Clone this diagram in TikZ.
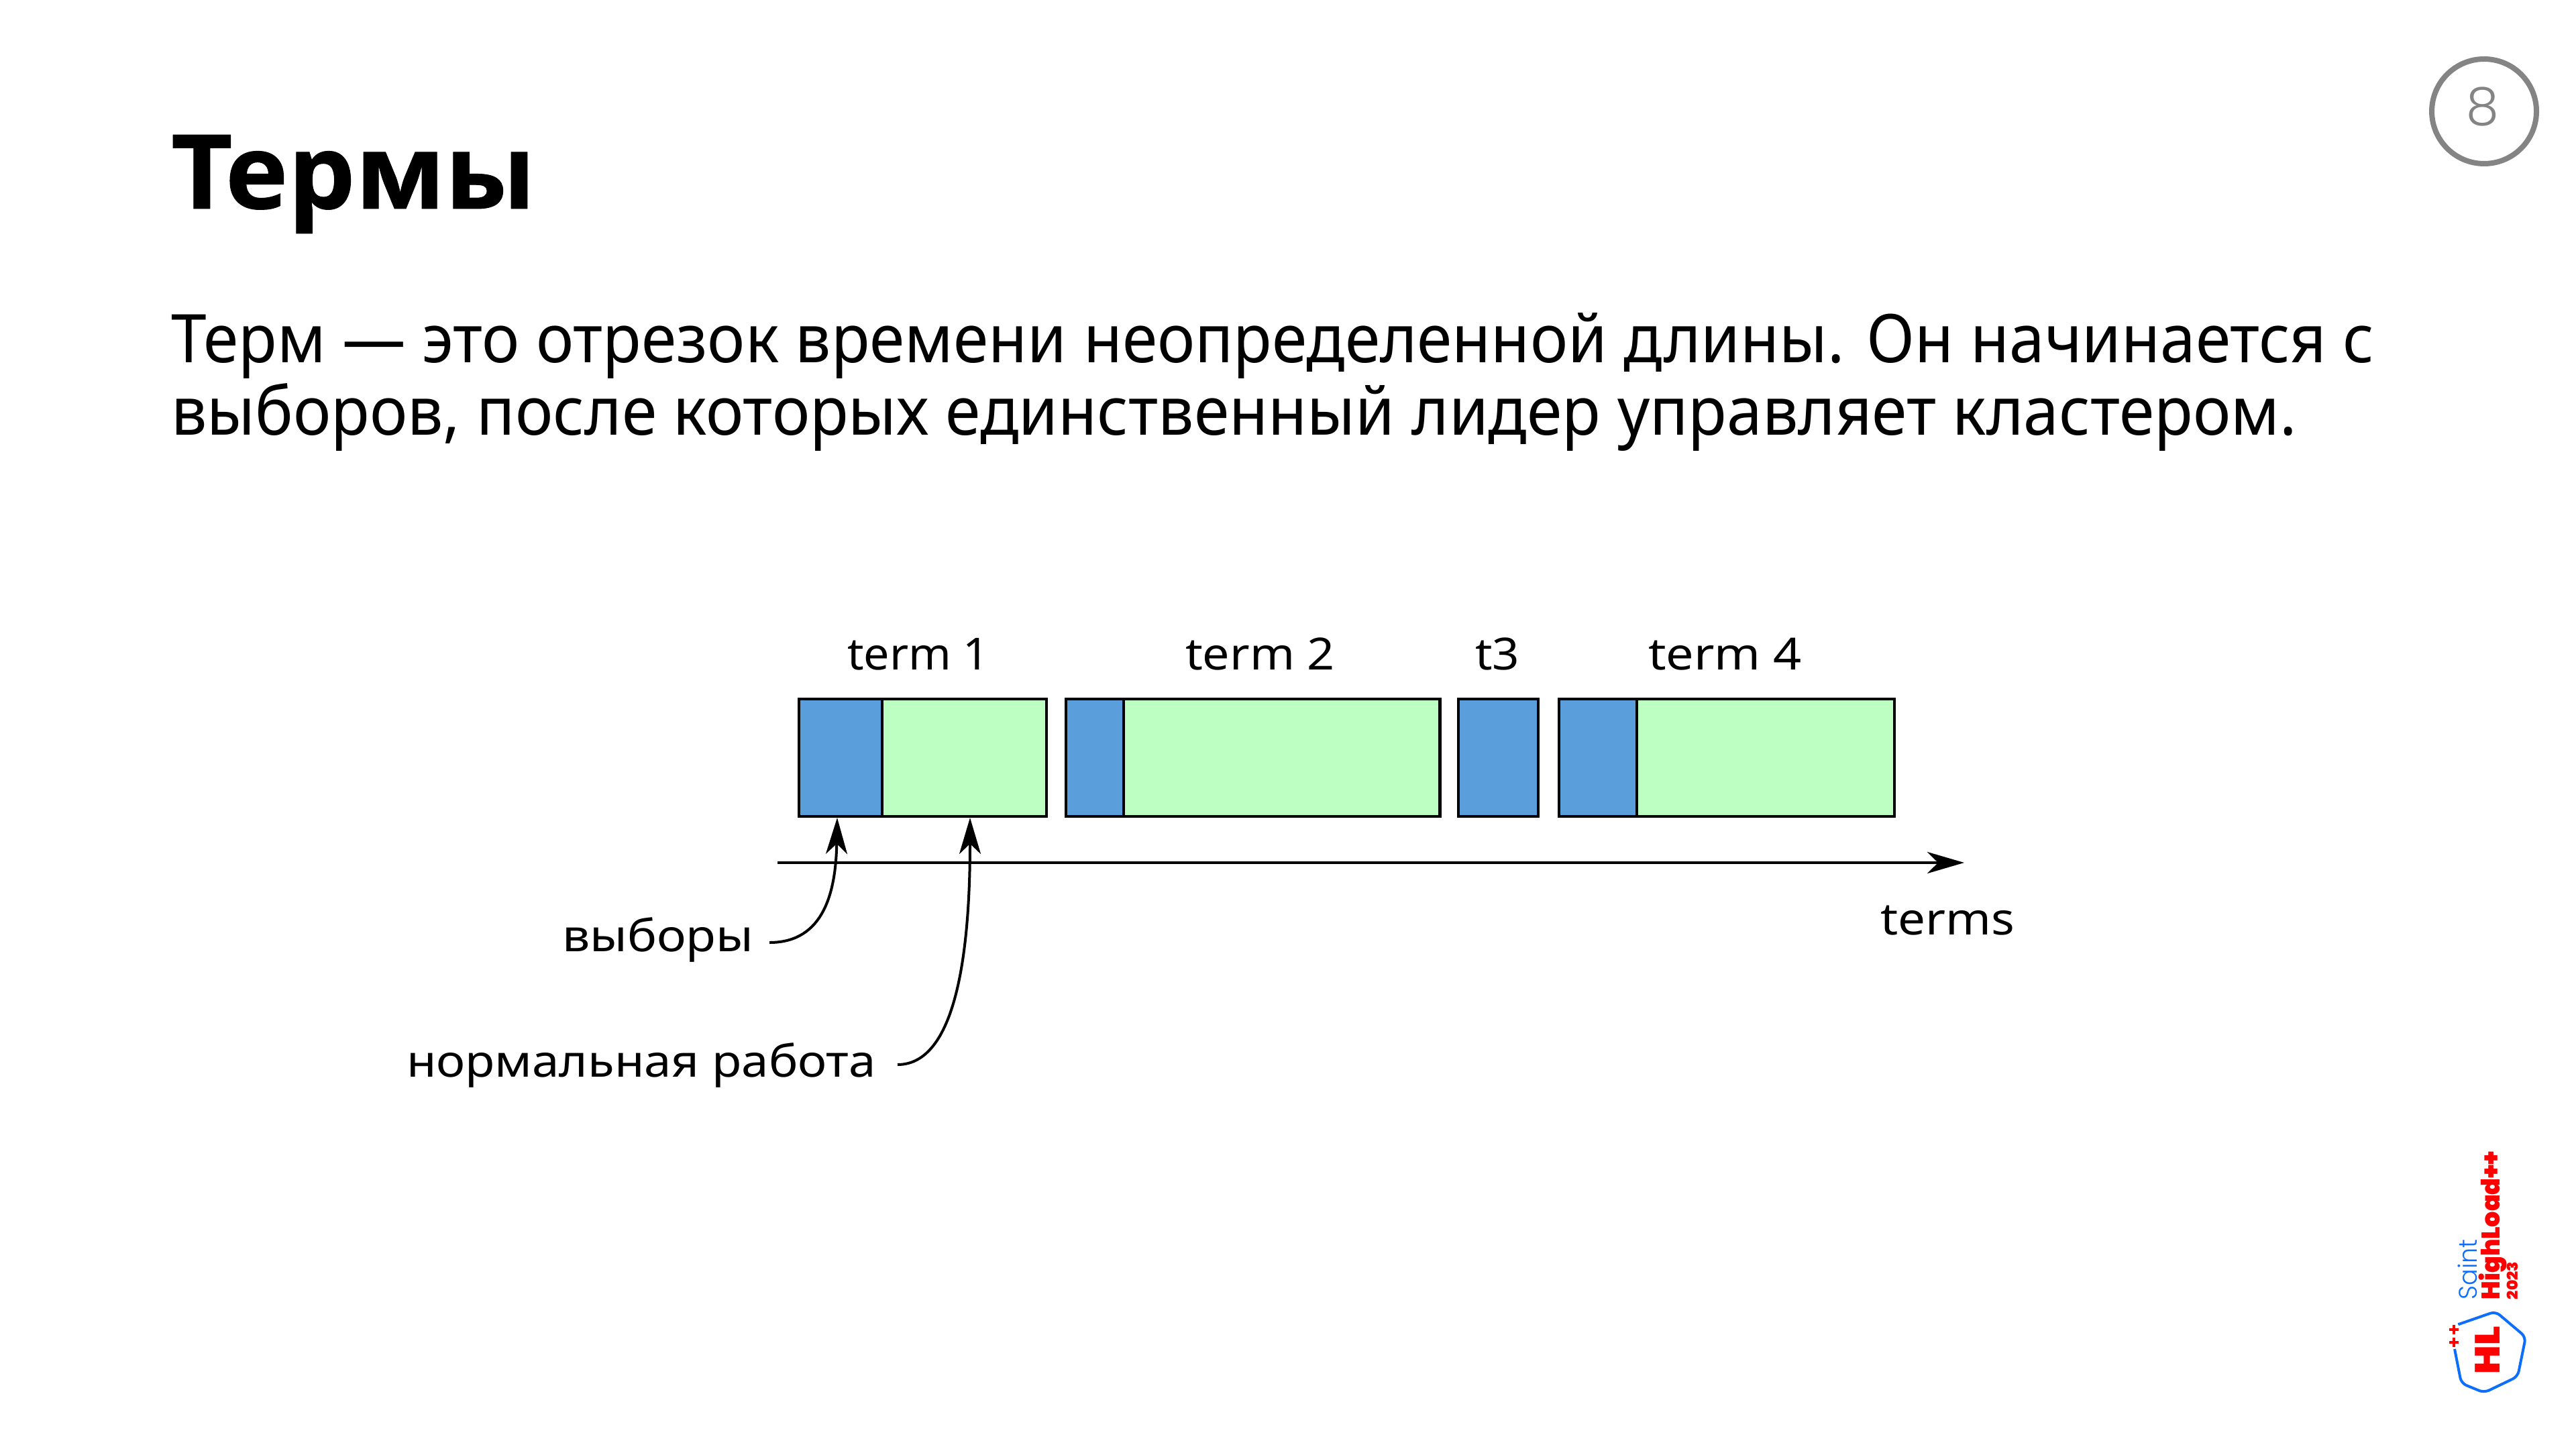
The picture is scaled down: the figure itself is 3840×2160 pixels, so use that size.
\documentclass[tikz,border=0pt]{standalone}
\usepackage{fontspec}
\usetikzlibrary{arrows.meta}
\setmainfont{Noto Sans}
\newfontfamily\titlefont{Open Sans}[BoldFeatures={FakeBold=0.6}]
\newfontfamily\logofont{Poppins Black}
\newfontfamily\lightfont{Poppins Light}
\newcommand\fitx[2]{\resizebox{\dimexpr#1pt/4\relax}{\height}{#2}}
\newcommand\px{0.25pt}
\definecolor{elect}{HTML}{5A9FDB}
\definecolor{work}{HTML}{BDFFC3}
\definecolor{numgray}{HTML}{848484}
\definecolor{logoblue}{HTML}{0D6EFD}
\definecolor{logored}{HTML}{FF0000}
\tikzset{
  txt/.style={anchor=base west,inner sep=0pt,outer sep=0pt,text=black},
  titletxt/.style={txt,font=\titlefont\bfseries\fontsize{38.5pt}{46pt}\selectfont},
  bodytxt/.style={txt,font=\fontsize{25pt}{30pt}\selectfont},
  labeltxt/.style={txt,font=\fontsize{16.5pt}{20pt}\selectfont},
  seg/.style={draw=black,line width=1.12pt,anchor=north west,inner sep=0pt,outer sep=0pt,minimum height=175*\px},
  axisline/.style={draw=black,line width=1.05pt,-{Stealth[length=13.75pt,width=8pt,inset=4pt]}},
  callout/.style={draw=black,line width=1pt,-{Stealth[length=13.5pt,width=8pt,inset=3.8pt]}},
  logotxt/.style={anchor=base west,inner sep=0pt,outer sep=0pt,rotate=90},
  crossmark/.style={draw=logored,line width=1.2pt}
}
\begin{document}
\begin{tikzpicture}[x=0.25pt,y=-0.25pt]
\useasboundingbox[fill=white] (0,0) rectangle (3840,2160);
% heading and text
\node[titletxt] (title) at (255,311) {\fitx{543}{Термы}};
\node[bodytxt] (line1) at (255,541) {\fitx{3284}{Терм — это отрезок времени неопределенной длины. Он начинается с}};
\node[bodytxt] (line2) at (255,649) {\fitx{3169}{выборов, после которых единственный лидер управляет кластером.}};
% page number
\node[circle,draw=numgray,line width=2pt,minimum size=156*\px,inner sep=0pt] (pagecirc) at (3703,166) {};
\node[anchor=base,inner sep=0pt,text=numgray,font=\lightfont\fontsize{19.5pt}{24pt}\selectfont] (pagenum) at (3701,187) {8};
% terms
\node[seg,fill=elect,minimum width=124*\px] (e1) at (1191,1042) {};
\node[seg,fill=work,minimum width=245*\px] (w1) at (1315,1042) {};
\node[seg,fill=elect,minimum width=86*\px] (e2) at (1589,1042) {};
\node[seg,fill=work,minimum width=471.5*\px] (w2) at (1675,1042) {};
\node[seg,fill=elect,minimum width=119*\px] (e3) at (2174,1042) {};
\node[seg,fill=elect,minimum width=116*\px] (e4) at (2324,1042) {};
\node[seg,fill=work,minimum width=384*\px] (w4) at (2440,1042) {};
% labels
\node[labeltxt] (t1) at (1263,998) {\fitx{212}{term 1}};
\node[labeltxt] (t2) at (1767,998) {\fitx{223}{term 2}};
\node[labeltxt] (t3) at (2199,998) {\fitx{66}{t3}};
\node[labeltxt] (t4) at (2457,998) {\fitx{229}{term 4}};
\node[labeltxt] (tt) at (2803,1393) {\fitx{200}{terms}};
\node[labeltxt] (lv) at (838,1418) {\fitx{285}{выборы}};
\node[labeltxt] (ln) at (606,1605) {\fitx{700}{нормальная работа}};
% axis
\coordinate (axisA) at (1159,1286);
\coordinate (axisB) at (2928,1286);
\draw[axisline] (axisA) -- (axisB);
% callouts
\coordinate (cv) at (1147,1405);
\coordinate (cn) at (1338,1587);
\coordinate (tipv) at (1248,1219);
\coordinate (tipn) at (1446,1219);
\draw[callout] (cv) .. controls (1228,1405) and (1246,1330) .. (tipv);
\draw[callout] (cn) .. controls (1425,1587) and (1446,1420) .. (tipn);
% logo
\node[logotxt,text=logoblue,font=\lightfont\fontsize{9.5pt}{12pt}\selectfont] (saint) at (3692,1937) {\fitx{90}{Saint}};
\node[logotxt,text=logored,font=\logofont\fontsize{9.5pt}{12pt}\selectfont] (hload) at (3726,1937) {\fitx{221}{HighLoad++}};
\node[logotxt,text=logored,font=\logofont\fontsize{5.5pt}{7pt}\selectfont] (year) at (3753,1937) {\fitx{56}{2023}};
\node[logotxt,text=logored,font=\logofont\fontsize{13pt}{16pt}\selectfont] (hl) at (3726,2048) {\fitx{71}{HL}};
\draw[logoblue,line width=1pt,rounded corners=2pt,line cap=butt]
  (3664.3,1974.3) -- (3720,1955) -- (3765,1993) -- (3753,2052) -- (3703,2076) -- (3669,2062) -- (3659,2011);
\draw[crossmark] (3651,1982) -- (3665,1982) (3658,1975) -- (3658,1989);
\draw[crossmark] (3651,2001) -- (3665,2001) (3658,1994) -- (3658,2008);
\end{tikzpicture}
\end{document}
